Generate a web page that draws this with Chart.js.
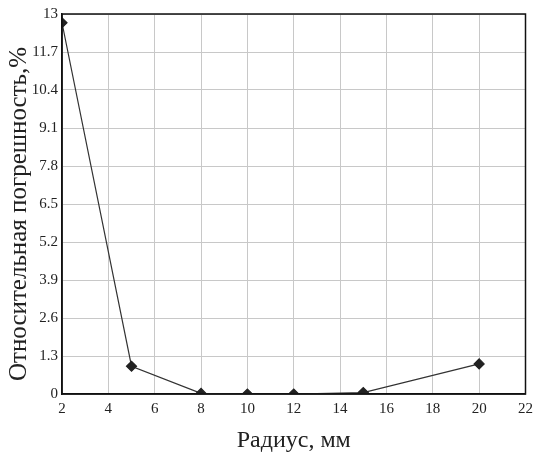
<!DOCTYPE html>
<html>
<head>
<meta charset="utf-8">
<script src="https://cdn.jsdelivr.net/npm/chart.js@4/dist/chart.umd.min.js"></script>
<style>
  body { margin: 0; background: #fff; }
  #wrap { width: 539px; height: 455px; }
</style>
</head>
<body>
<div id="wrap"><canvas id="chart"></canvas></div>
<script>
// radius, mm and relative error, %
const radius = [2, 5, 8, 10, 12, 15, 20];
const errorPct = [12.7, 0.95, 0.02, 0, 0, 0.05, 1.03];
const xTicks = [2, 4, 6, 8, 10, 12, 14, 16, 18, 20, 22];
const yTicks = [0, 1.3, 2.6, 3.9, 5.2, 6.5, 7.8, 9.1, 10.4, 11.7, 13];
const yTitle = "Относительная погрешность,%";

// black frame around the plot area + rotated y title
const frame = {
    id: "frame",
    afterDraw(chart) {
        let a = chart.chartArea;
        let ctx = chart.ctx;
        ctx.save();
        ctx.strokeStyle = "#111";
        ctx.lineWidth = 1.5;
        ctx.strokeRect(a.left, a.top, a.right - a.left, a.bottom - a.top);

        ctx.translate(19, 214);
        ctx.rotate(-Math.PI / 2);
        ctx.fillStyle = "#222";
        ctx.font = "25px 'Liberation Serif'";
        ctx.textAlign = "center";
        ctx.textBaseline = "middle";
        ctx.fillText(yTitle, 0, 0);
        ctx.restore();
    }
};

let font = { family: "Liberation Serif", size: 15 };

new Chart(document.getElementById("chart"), {
    type: "scatter",
    data: {
        datasets: [{
            data: radius.map((r, i) => ({ x: r, y: errorPct[i] })),
            showLine: true,
            borderColor: "#333",
            borderWidth: 1.2,
            pointStyle: "rectRot",
            pointRadius: 5,
            pointBackgroundColor: "#222",
            pointBorderColor: "#222"
        }]
    },
    options: {
        responsive: true,
        maintainAspectRatio: false,
        animation: false,
        layout: { padding: { left: 0, top: 14, right: 13, bottom: 0 } },
        plugins: { legend: { display: false }, tooltip: { enabled: false } },
        scales: {
            x: {
                type: "linear",
                min: 2, max: 22,
                afterBuildTicks: s => { s.ticks = xTicks.map(v => ({ value: v })); },
                afterFit: s => { s.height = 61; },
                grid: { color: "#c8c8c8", drawTicks: false },
                border: { color: "#111", width: 1.5 },
                ticks: { color: "#222", font: font, padding: 6 },
                title: {
                    display: true,
                    text: "Радиус, мм",
                    color: "#222",
                    font: { family: "Liberation Serif", size: 24 },
                    padding: { top: 12, bottom: 0 }
                }
            },
            y: {
                type: "linear",
                min: 0, max: 13,
                afterBuildTicks: s => { s.ticks = yTicks.map(v => ({ value: v })); },
                afterFit: s => { s.width = 62; },
                grid: { color: "#c8c8c8", drawTicks: false },
                border: { color: "#111", width: 1.5 },
                ticks: {
                    color: "#222",
                    font: font,
                    padding: 4,
                    callback: v => String(Math.round(v * 10) / 10)
                }
            }
        }
    },
    plugins: [frame]
});
</script>
</body>
</html>
